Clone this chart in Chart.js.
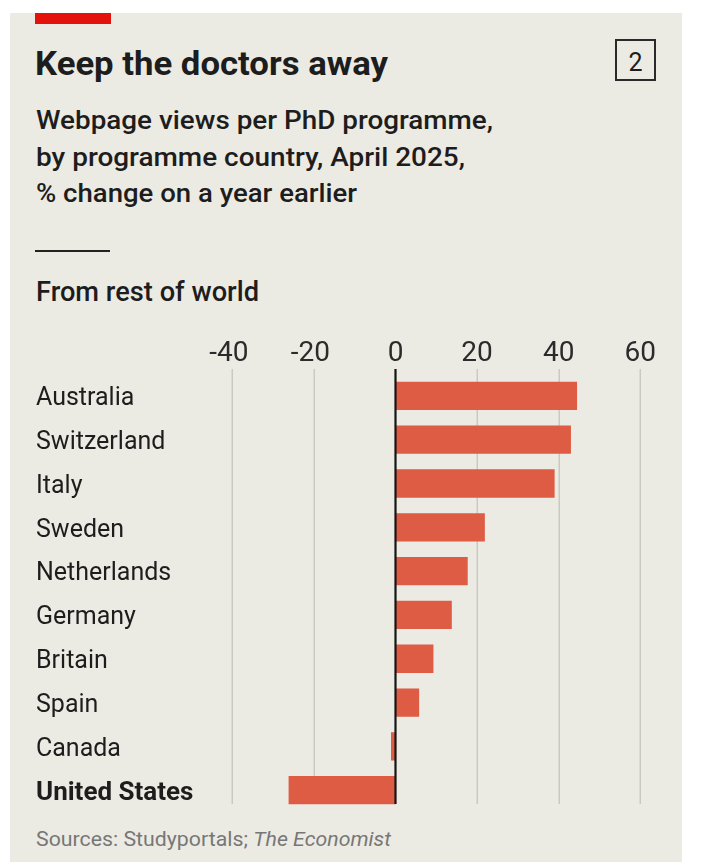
<!DOCTYPE html>
<html>
<head>
<meta charset="utf-8">
<script src="https://cdn.jsdelivr.net/npm/chart.js@4.4.1/dist/chart.umd.min.js"></script>
<style>
  html, body { margin: 0; padding: 0; background: #ffffff; }
  body { width: 702px; height: 862px; position: relative; overflow: hidden; font-family: Roboto, "Liberation Sans", sans-serif; }
  #panel { position: absolute; left: 10px; top: 13px; width: 672px; height: 849px; background: #ecebe3; }
  #redbar { position: absolute; left: 35px; top: 13px; width: 76px; height: 11px; background: #e3120b; }
  #rule { position: absolute; left: 35px; top: 250px; width: 75px; height: 2px; background: #222; }
  .t { position: absolute; white-space: nowrap; display: inline-block; transform-origin: 0 0; color: #1d1d1d; }
  #box { position: absolute; left: 615px; top: 39px; width: 41px; height: 42px; border: 2px solid #2a2a2a; box-sizing: border-box; }
  #chart { position: absolute; left: 0; top: 0; }
</style>
</head>
<body>
<div id="panel"></div>
<div id="redbar"></div>
<div id="rule"></div>
<div id="box"></div>
<div class="t" id="num" style="left:628.5px; top:50px; font-size:25px; line-height:25px; font-weight:400;">2</div>
<div class="t" data-w="353" style="left:35px; top:46.4px; font-size:34px; line-height:34px; font-weight:700;">Keep the doctors away</div>
<div class="t" data-w="457" style="left:36px; top:106.9px; font-size:26px; line-height:26px; font-weight:500;">Webpage views per PhD programme,</div>
<div class="t" data-w="429" style="left:36px; top:143.6px; font-size:26px; line-height:26px; font-weight:500;">by programme country, April 2025,</div>
<div class="t" data-w="321" style="left:36px; top:179.6px; font-size:26px; line-height:26px; font-weight:500;">% change on a year earlier</div>
<div class="t" data-w="223" style="left:36px; top:278.8px; font-size:27px; line-height:27px; font-weight:500;">From rest of world</div>
<div class="t" data-w="355" style="left:36px; top:828.7px; font-size:20px; line-height:20px; font-weight:400; color:#777;">Sources: Studyportals; <i>The Economist</i></div>
<canvas id="chart" width="702" height="862"></canvas>
<script>
// ---- Data ----
const countries = ["Australia", "Switzerland", "Italy", "Sweden", "Netherlands", "Germany", "Britain", "Spain", "Canada", "United States"];
const changePct = [44.5, 43.0, 39.0, 21.9, 17.7, 13.8, 9.3, 5.8, -1.1, -26.2];
const xTickValues = [-40, -20, 0, 20, 40, 60];
const highlighted = ["United States"];

// fit header texts to measured widths
document.querySelectorAll('.t[data-w]').forEach(el => {
  const w = el.getBoundingClientRect().width;
  const target = parseFloat(el.dataset.w);
  if (w > 0) el.style.transform = 'scaleX(' + (target / w) + ')';
});

const FONT = 'Roboto, "Liberation Sans", sans-serif';

const gridPlugin = {
  id: 'econGrid',
  beforeDatasetsDraw(chart) {
    const { ctx, chartArea, scales: { x } } = chart;
    ctx.save();
    ctx.strokeStyle = '#c9c9c4';
    ctx.lineWidth = 1.5;
    xTickValues.forEach(v => {
      if (v === 0) return;
      const px = Math.round(x.getPixelForValue(v)) + 0.25;
      ctx.beginPath();
      ctx.moveTo(px, chartArea.top - 5);
      ctx.lineTo(px, chartArea.bottom - 8);
      ctx.stroke();
    });
    ctx.restore();
  },
  afterDatasetsDraw(chart) {
    const { ctx, chartArea, scales: { x } } = chart;
    const px = x.getPixelForValue(0);
    ctx.save();
    ctx.strokeStyle = '#141414';
    ctx.lineWidth = 2.2;
    ctx.beginPath();
    ctx.moveTo(px, chartArea.top - 5);
    ctx.lineTo(px, chartArea.bottom - 8);
    ctx.stroke();
    ctx.restore();
  }
};

new Chart(document.getElementById('chart'), {
  type: 'bar',
  data: {
    labels: countries,
    datasets: [{
      data: changePct,
      backgroundColor: '#de5b44',
      borderWidth: 0,
      barPercentage: 1.0,
      categoryPercentage: 0.646
    }]
  },
  options: {
    indexAxis: 'y',
    responsive: false,
    animation: false,
    devicePixelRatio: 1,
    layout: { padding: { left: 36, right: 61.7, top: 336, bottom: 49.9 } },
    plugins: { legend: { display: false }, tooltip: { enabled: false } },
    scales: {
      x: {
        position: 'top',
        min: -40,
        max: 60,
        afterBuildTicks: s => { s.ticks = xTickValues.map(v => ({ value: v })); },
        ticks: {
          font: { family: FONT, size: 28, weight: '400' },
          color: '#2b2b2b',
          padding: 3,
          maxRotation: 0,
          autoSkip: false,
          // negative labels: keep the digits centred on the gridline, minus hanging left
          callback: v => (v < 0 ? String(v) + ' ' : String(v))
        },
        grid: { display: false, drawTicks: false },
        border: { display: false },
        afterFit: s => { s.height = 38; }
      },
      y: {
        ticks: {
          font: ctx => highlighted.includes(countries[ctx.index])
            ? { family: FONT, size: 26, weight: '700' }
            : { family: FONT, size: 25, weight: '400' },
          color: '#1d1d1d',
          crossAlign: 'far',
          padding: 0,
          labelOffset: 3,
          autoSkip: false
        },
        grid: { display: false, drawTicks: false },
        border: { display: false },
        afterFit: s => { s.width = 196.3; }
      }
    }
  },
  plugins: [gridPlugin]
});
</script>
</body>
</html>
